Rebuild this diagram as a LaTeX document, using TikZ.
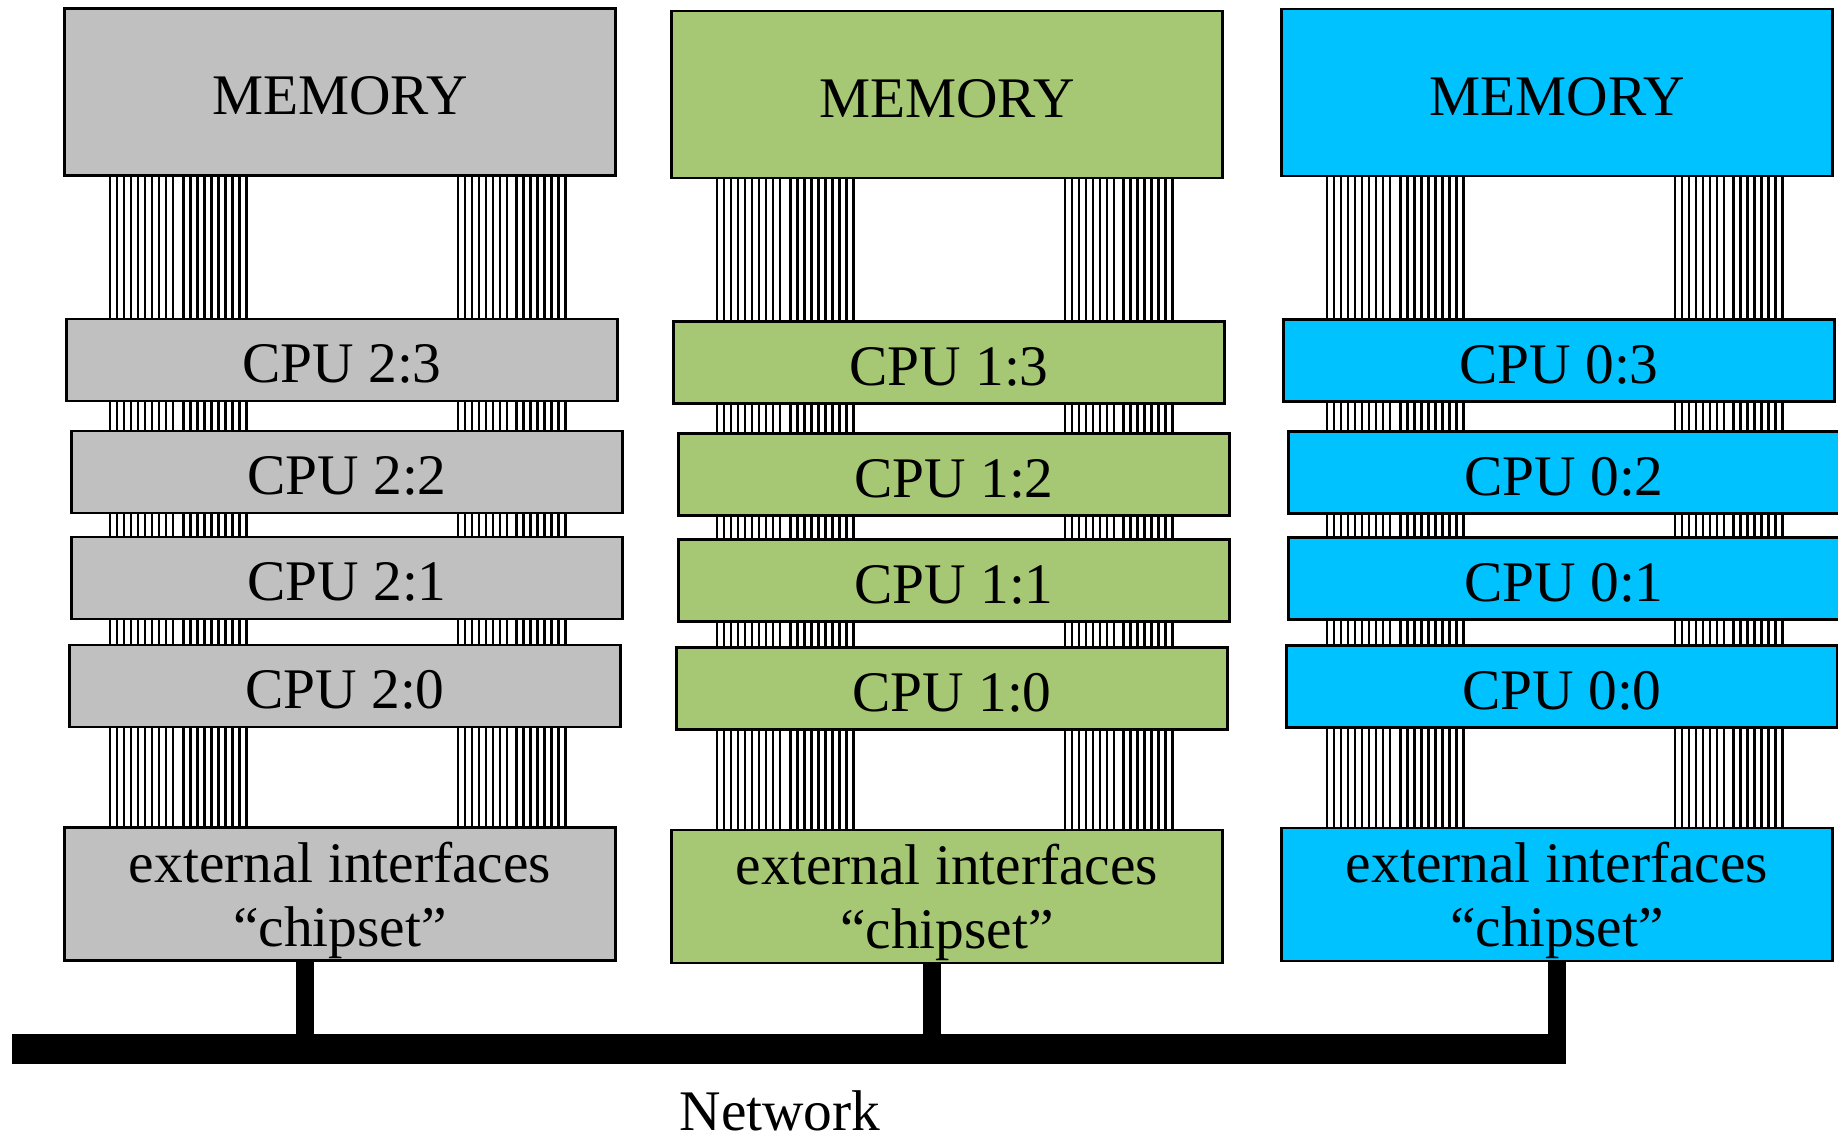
\documentclass[tikz,border=0pt]{standalone}
\usepackage{fontspec}
\setmainfont{Liberation Serif}
\usetikzlibrary{positioning,calc}
\definecolor{nodegray}{HTML}{C0C0C0}
\definecolor{nodegreen}{HTML}{A6C773}
\definecolor{nodeblue}{HTML}{00C2FF}

\begin{document}
\begin{tikzpicture}[x=0.5pt,y=-0.5pt, every node/.style={font=\fontsize{28.7}{32.2}\selectfont},
    unitbox/.style={draw=black, line width=1.2pt, minimum width=275.5pt, inner sep=0pt, align=center},
    membox/.style={unitbox, minimum height=83.5pt, text height=23pt},
    cpubox/.style={unitbox, minimum height=41pt, text height=23pt},
    extbox/.style={unitbox, minimum height=66.5pt, text depth=-1pt},
    wire/.style={line width=1.2pt},
    netbar/.style={line width=15pt},
    netstem/.style={line width=9pt}]
    \useasboundingbox (0,0) rectangle (1838,1139);
    % one stack per board: memory, four cpus, chipset
    \foreach \c/\col/\x/\dy/\sx in {2/nodegray/340/0/305, 1/nodegreen/947/2.5/932, 0/nodeblue/1557/0.5/1557}{
        \node[membox, fill=\col] (mem\c) at (\x,92+\dy) {MEMORY};
        \foreach \k/\ox/\y in {3/2/360, 2/7/472, 1/7/578, 0/5/686}{
            \node[cpubox, fill=\col] (cpu\c\k) at (\x+\ox,\y+\dy) {CPU \c:\k};
        }
        \node[extbox, fill=\col] (ext\c) at (\x,894+\dy) {external interfaces\\``chipset''};
        \pgfmathsetmacro{\xl}{\x-276}
        \foreach \u/\v in {mem\c/cpu\c3, cpu\c3/cpu\c2, cpu\c2/cpu\c1, cpu\c1/cpu\c0, cpu\c0/ext\c}{
            \foreach \i in {0,...,19}{
                \pgfmathsetmacro{\lx}{\xl+46+7*\i+3.5*(\i>9)}
                \coordinate (wl) at (\lx,0);
                \draw[wire] (\u.south -| wl) -- (\v.north -| wl);
            }
            \foreach \i in {0,...,15}{
                \pgfmathsetmacro{\lx}{\xl+394+7*\i+2.5*(\i>7)}
                \coordinate (wr) at (\lx,0);
                \draw[wire] (\u.south -| wr) -- (\v.north -| wr);
            }
        }
        \coordinate (stem\c) at (\sx,1049);
    }
    % network
    \coordinate (netW) at (12,1049);
    \coordinate (netE) at (1566,1049);
    \draw[netbar] (netW) -- (netE);
    \foreach \c in {2,1,0}{\draw[netstem] (ext\c.south -| stem\c) -- (stem\c);}
    \node[inner sep=0pt] (netlabel) at (780,1111) {Network};
\end{tikzpicture}
\end{document}
